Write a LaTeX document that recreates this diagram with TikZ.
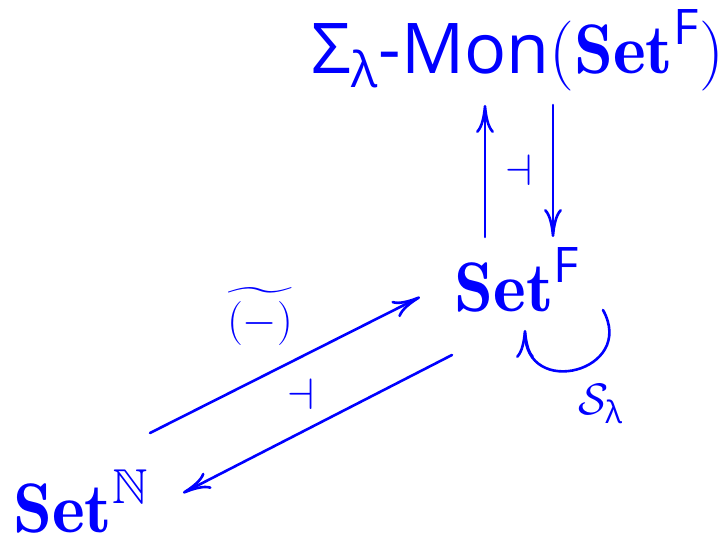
\RequirePackage{fix-cm}
\documentclass[tikz,border=0pt]{standalone}
\usepackage{amsmath}
\usepackage{amssymb}
\usepackage{fontspec}
\setsansfont[Scale=1.0]{Open Sans}
\usepackage{tikz}
\usetikzlibrary{positioning,calc,arrows.meta}
\definecolor{ink}{HTML}{0000FF}
\tikzset{
  >={Computer Modern Rightarrow[length=14pt,width=9pt]},
  % --- nodes
  obj/.style = {text=ink, anchor=base, inner sep=0pt, font=\fontsize{35}{42}\selectfont},
  lbl/.style = {text=ink, inner sep=0pt, font=\fontsize{22}{26}\selectfont},
  % --- edges
  mor/.style = {->, draw=ink, line width=1.3pt, line cap=round},
}

\begin{document}
\begin{tikzpicture}[x=0.5pt,y=0.5pt]
  \useasboundingbox (0,0) rectangle (720,540);

  % objects
  \node[obj] (mon) at (518,466) {\textsf{Σ}$_{\textsf{λ}}$\textsf{-Mon}$(\mathbf{Set}^{\textsf{F}})$};
  \node[obj] (sf)  at (517,228) {$\mathbf{Set}^{\textsf{F}}$};
  \node[obj] (sn)  at (81,7)    {$\mathbf{Set}^{\mathbb{N}}$};

  % free monoid adjunction
  \draw[mor] ($(sf.base)+(-32,75)$) -- ($(mon.base)+(-33,-31)$);
  \draw[mor] ($(mon.base)+(35,-31)$) -- ($(sf.base)+(36,75)$);
  \node[lbl] (adjv) at (519,370) {$\dashv$};

  % extension / restriction
  \draw[mor] ($(sn.base)+(69,100)$) -- ($(sf.base)+(-97,15)$);
  \node[lbl] (ext) at (260,224) {$\widetilde{(-)}$};
  \draw[mor] ($(sf.base)+(-65,-43)$) -- ($(sn.base)+(102,40)$);
  \node[lbl] (adjd) at (301,146) {$\dashv$};

  % endofunctor on Set^F
  \draw[mor] ($(sf.base)+(86,2)$) .. controls +(-61:70) and +(-90:70) .. ($(sf.base)+(8,-18)$);
  \node[lbl] (endo) at (601,136) {$\mathcal{S}_{\textsf{λ}}$};
\end{tikzpicture}
\end{document}
